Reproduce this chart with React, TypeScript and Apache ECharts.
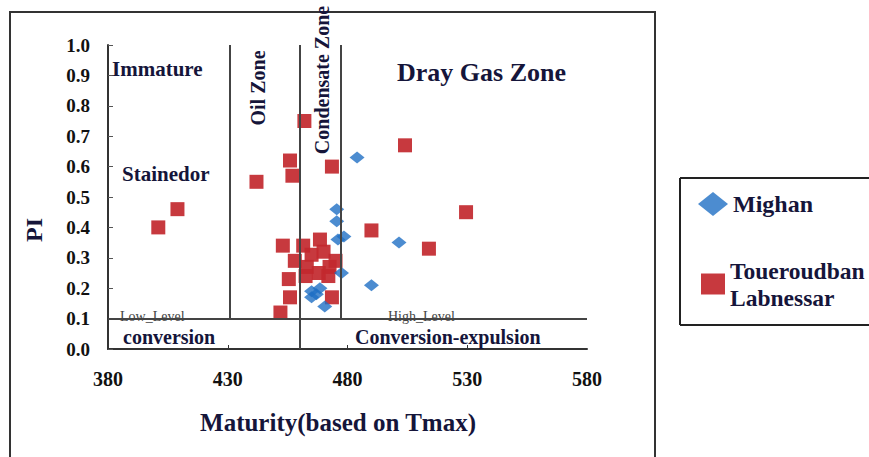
import React, { useEffect, useRef } from "react";
import * as echarts from "echarts";

const xTickLabels = [380, 430, 480, 530, 580];
const xInnerTicks = [430, 480, 530];
const zoneBoundaries = [431, 460, 477];
const zoneLineBottoms = [0.1, 0, 0.1];
const conversionLevel = 0.1;

const mighan: [number, number][] = [
  [484, 0.63],
  [475.5, 0.46],
  [475.5, 0.42],
  [478.5, 0.37],
  [476, 0.36],
  [501.5, 0.35],
  [477.5, 0.25],
  [490, 0.21],
  [465, 0.19],
  [468.5, 0.2],
  [467, 0.18],
  [465, 0.17],
  [470.5, 0.14],
];

const toueroudban: [number, number][] = [
  [401, 0.4],
  [409, 0.46],
  [442, 0.55],
  [456, 0.62],
  [457, 0.57],
  [462, 0.75],
  [473.5, 0.6],
  [504, 0.67],
  [529.5, 0.45],
  [490, 0.39],
  [514, 0.33],
  [453, 0.34],
  [461.5, 0.34],
  [468.5, 0.36],
  [458, 0.29],
  [465, 0.31],
  [470, 0.32],
  [475, 0.29],
  [463, 0.27],
  [472.5, 0.27],
  [468, 0.25],
  [455.5, 0.23],
  [462.5, 0.24],
  [472, 0.24],
  [456, 0.17],
  [473.5, 0.17],
  [452, 0.12],
];

const FONT = "Liberation Serif";
const INK = "#15153a";

export default function App() {
  const ref = useRef<HTMLDivElement>(null);
  useEffect(() => {
    if (!ref.current) return;
    const chart = echarts.init(ref.current, null, { renderer: "svg" });

    const lineData: any[] = zoneBoundaries.map((x, i) => [
      { coord: [x, zoneLineBottoms[i]] },
      { coord: [x, 1] },
    ]);
    lineData.push([
      { coord: [xTickLabels[0], conversionLevel] },
      { coord: [xTickLabels[xTickLabels.length - 1], conversionLevel] },
    ]);

    const txt = (text: string, x: number, y: number, opts: any = {}) => ({
      type: "text",
      x,
      y,
      rotation: opts.rotation || 0,
      z: 10,
      style: {
        text,
        fontFamily: FONT,
        fontSize: opts.size || 21,
        fontWeight: opts.weight || "bold",
        fill: opts.color || INK,
        align: opts.align || "left",
        verticalAlign: "middle",
      },
    });

    const seg = (x1: number, y1: number, x2: number, y2: number) => ({
      type: "line",
      shape: { x1, y1, x2, y2 },
      style: { stroke: "#222", lineWidth: 2 },
      z: 1,
    });

    const labelStyle = (size: number) => ({
      fontFamily: FONT,
      fontSize: size,
      fontWeight: "bold" as const,
      color: "#111",
    });

    chart.setOption({
      animation: false,
      backgroundColor: "#fff",
      textStyle: { fontFamily: FONT },
      grid: { left: 108, right: 282, top: 45, bottom: 108 },
      xAxis: {
        type: "value",
        min: 380,
        max: 580,
        splitLine: { show: false },
        axisLine: { lineStyle: { color: "#333", width: 2 } },
        axisTick: {
          inside: true,
          length: 4,
          customValues: xInnerTicks,
          lineStyle: { color: "#333" },
        },
        axisLabel: {
          customValues: xTickLabels,
          margin: 20,
          ...labelStyle(20),
        },
      },
      yAxis: {
        type: "value",
        min: 0,
        max: 1,
        interval: 0.1,
        splitLine: { show: false },
        axisLine: { show: true, lineStyle: { color: "#333", width: 2 } },
        axisTick: { show: true, inside: true, length: 5, lineStyle: { color: "#555" } },
        axisLabel: {
          margin: 18,
          ...labelStyle(19),
          formatter: (v: number) => v.toFixed(1),
        },
      },
      legend: [
        {
          data: [{ name: "Mighan", icon: "diamond" }],
          left: 693,
          top: 187,
          itemWidth: 30,
          itemHeight: 24,
          textStyle: { ...labelStyle(24), color: INK },
        },
        {
          data: [{ name: "Toueroudban Labnessar", icon: "rect" }],
          left: 696,
          top: 252,
          itemWidth: 24,
          itemHeight: 21,
          formatter: (n: string) => n.replace(" ", "\n"),
          textStyle: { ...labelStyle(23.5), color: INK, lineHeight: 27 },
        },
      ],
      series: [
        {
          name: "Toueroudban Labnessar",
          type: "scatter",
          symbol: "rect",
          symbolSize: 14,
          itemStyle: { color: "#c2282e", opacity: 0.92 },
          data: toueroudban,
          markLine: {
            silent: true,
            symbol: ["none", "none"],
            label: { show: false },
            lineStyle: { color: "#444", width: 2, type: "solid" },
            data: lineData,
          },
          z: 2,
        },
        {
          name: "Mighan",
          type: "scatter",
          symbol: "diamond",
          symbolSize: [15, 12],
          itemStyle: { color: "#1f6fc4" },
          data: mighan,
          z: 3,
        },
      ],
      graphic: [
        {
          type: "rect",
          shape: { x: 10, y: 12, width: 645, height: 470 },
          style: { fill: "none", stroke: "#333", lineWidth: 2 },
          z: 1,
        },
        seg(680, 178, 869, 178),
        seg(680, 178, 680, 325),
        seg(680, 325, 869, 325),
        txt("Immature", 112, 69),
        txt("Stainedor", 122, 174),
        txt("Dray Gas Zone", 397, 72, { size: 26 }),
        txt("Oil Zone", 258, 88, { rotation: Math.PI / 2, align: "center", size: 20 }),
        txt("Condensate Zone", 322, 80, { rotation: Math.PI / 2, align: "center", size: 20 }),
        txt("Low_Level", 120, 316, { size: 14, weight: "normal", color: "#444" }),
        txt("conversion", 123, 337, { size: 20 }),
        txt("High_Level", 388, 316, { size: 14, weight: "normal", color: "#444" }),
        txt("Conversion-expulsion", 355, 337, { size: 20 }),
        txt("Maturity(based on Tmax)", 338, 422, { size: 25, align: "center" }),
        txt("PI", 34, 230, { rotation: Math.PI / 2, align: "center", size: 24 }),
      ],
    });
    return () => chart.dispose();
  }, []);
  return (
    <div
      ref={ref}
      style={{ position: "fixed", left: 0, top: 0, width: 869, height: 457 }}
    />
  );
}
